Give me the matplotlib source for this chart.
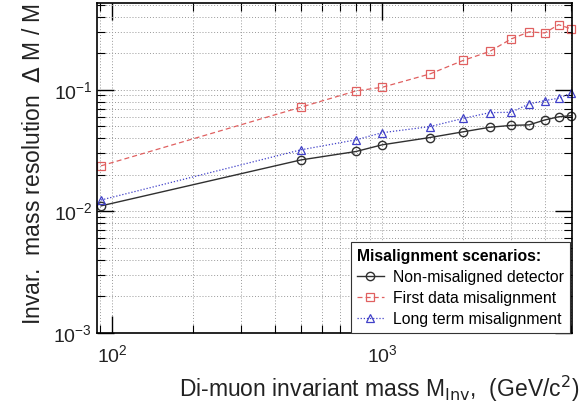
import matplotlib.pyplot as plt
import numpy as np

plt.rcParams['font.family'] = ['Liberation Sans', 'DejaVu Sans']

# di-muon invariant mass points (GeV/c^2)
mass = [91, 500, 800, 1000, 1500, 2000, 2500, 3000, 3500, 4000, 4500, 5000]

# relative mass resolution dM/M
res_ideal = [0.0111, 0.0265, 0.0311, 0.0353, 0.0405, 0.0452, 0.0492, 0.0510,
             0.0515, 0.0565, 0.0600, 0.0613]
res_first = [0.0237, 0.072, 0.098, 0.105, 0.135, 0.175, 0.207, 0.262,
             0.300, 0.294, 0.344, 0.318]
res_long = [0.0124, 0.0321, 0.0388, 0.0444, 0.0498, 0.0583, 0.0649, 0.0654,
            0.0766, 0.0816, 0.0853, 0.094]

labels = ['Non-misaligned detector', 'First data misalignment', 'Long term misalignment']

fig = plt.figure(figsize=(5.85, 4.05), dpi=100)
ax = fig.add_axes([0.166, 0.178, 0.812, 0.815])

ax.plot(mass, res_ideal, color='#303030', ls='-', lw=1.0, marker='o', ms=6,
        mfc='none', mec='#303030', mew=1.0, label=labels[0], clip_on=False)
ax.plot(mass, res_first, color='#e06060', ls=(0, (4, 2.5)), lw=0.9, marker='s', ms=6,
        mfc='none', mec='#e06060', mew=0.9, label=labels[1], clip_on=False)
ax.plot(mass, res_long, color='#4040c8', ls=(0, (1, 1.5)), lw=0.9, marker='^', ms=6,
        mfc='none', mec='#4040c8', mew=0.9, label=labels[2], clip_on=False)

ax.set_xscale('log')
ax.set_yscale('log')
ax.set_xlim(88, 5050)
ax.set_ylim(1e-3, 0.52)

ax.grid(True, which='both', color='#999999', ls=(0, (1, 2)), lw=0.7)
ax.tick_params(which='both', direction='in', top=True, right=True, labelsize=14,
               labelcolor='#222222')
ax.tick_params(which='major', length=12, width=1.0)
ax.tick_params(which='minor', length=6, width=0.8)
ax.tick_params(axis='x', pad=8)
for s in ax.spines.values():
    s.set_linewidth(1.2)

ax.set_xlabel(r'Di-muon invariant mass M$_{\rm Inv}$,  (GeV/c$^2$)', fontsize=16.5,
              ha='right', x=1.015, labelpad=6, color='#222222')
ax.set_ylabel(r'Invar.  mass resolution  $\Delta$ M / M', fontsize=16.5,
              ha='right', y=1.0, labelpad=6, color='#222222')

leg = ax.legend(loc='lower right', title='Misalignment scenarios:', fontsize=11.3,
                title_fontsize=11.3, frameon=True, fancybox=False, edgecolor='#333333',
                borderaxespad=0.0, handlelength=1.7, handletextpad=0.6,
                labelspacing=0.38, borderpad=0.4, framealpha=1,
                bbox_to_anchor=(0.996, 0.0))
leg.get_title().set_fontweight('bold')
leg._legend_box.align = 'left'
leg.get_frame().set_linewidth(0.8)

fig.savefig('out.png', dpi=100)
